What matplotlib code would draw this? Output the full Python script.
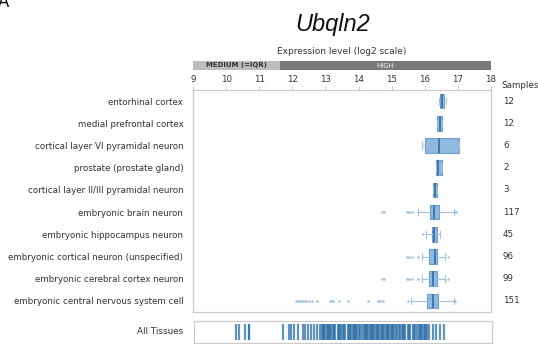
import matplotlib
matplotlib.use("Agg")
import matplotlib.pyplot as plt

W, H = 538, 344

title = "Ubqln2"
tissues = ["entorhinal cortex", "medial prefrontal cortex", "cortical layer VI pyramidal neuron",
           "prostate (prostate gland)", "cortical layer II/III pyramidal neuron", "embryonic brain neuron",
           "embryonic hippocampus neuron", "embryonic cortical neuron (unspecified)",
           "embryonic cerebral cortex neuron", "embryonic central nervous system cell"]
samples = [12, 12, 6, 2, 3, 117, 45, 96, 99, 151]
q1 = [16.46, 16.38, 16.01, 16.34, 16.26, 16.16, 16.21, 16.14, 16.14, 16.07]
med = [16.52, 16.46, 16.44, 16.41, 16.31, 16.29, 16.29, 16.31, 16.26, 16.26]
q3 = [16.58, 16.51, 17.03, 16.51, 16.36, 16.42, 16.36, 16.36, 16.36, 16.40]
whislo = [16.44, 16.36, 15.93, 16.34, 16.26, 15.81, 16.04, 15.93, 15.93, 15.59]
whishi = [16.64, 16.53, 17.03, 16.51, 16.36, 16.87, 16.46, 16.61, 16.61, 16.89]
fliers = [[], [], [], [], [],
          [14.71, 14.76, 15.45, 15.52, 15.60, 16.90, 16.93],
          [15.96],
          [15.45, 15.52, 15.60, 15.81, 16.71],
          [14.70, 14.76, 15.45, 15.52, 15.60, 15.81, 16.71],
          [12.11, 12.18, 12.24, 12.30, 12.36, 12.42, 12.50, 12.60, 12.73, 13.14, 13.20, 13.24,
           13.41, 13.69, 14.30, 14.60, 14.66, 14.75, 15.50, 16.92]]
all_tissues = [10.27, 10.37, 10.55, 10.65, 10.67, 11.68, 11.86, 11.93, 12.03, 12.13, 12.28, 12.34,
               12.43, 12.53, 12.63, 12.71,
               12.82, 12.86, 12.90, 12.93, 12.97, 13.01, 13.04, 13.08, 13.12, 13.15, 13.19, 13.23,
               13.27, 13.34, 13.38, 13.41, 13.45, 13.49, 13.53, 13.56, 13.64, 13.67, 13.71, 13.75,
               13.79, 13.82, 13.86, 13.90, 13.93, 13.97, 14.01, 14.08, 14.12, 14.16, 14.19, 14.23,
               14.27, 14.31, 14.34, 14.38, 14.42, 14.45, 14.49, 14.53, 14.57, 14.60, 14.64, 14.68,
               14.71, 14.75, 14.79, 14.83, 14.86, 14.90, 14.94, 14.97, 15.01, 15.05, 15.09, 15.12,
               15.20, 15.23, 15.27, 15.31, 15.35, 15.38, 15.46, 15.49, 15.53, 15.61, 15.64, 15.68,
               15.72, 15.79, 15.83, 15.87, 15.90, 15.94, 15.98, 16.01, 16.05, 16.09,
               16.21, 16.31, 16.44, 16.55]
xticks = [9, 10, 11, 12, 13, 14, 15, 16, 17, 18]
medium_end = 11.63

fig = plt.figure(figsize=(W / 100, H / 100), dpi=100)


def rect(x0, y0, x1, y1):
    return [x0 / W, 1 - y1 / H, (x1 - x0) / W, (y1 - y0) / H]


TXT = "#333333"
FR = "#cccccc"
FS = 6.3

# title
fig.text(333 / W, 1 - 24 / H, title, ha="center", va="center", fontsize=17, style="italic",
         family="Liberation Sans", color="#111111")
fig.text(-2 / W, 1 - 2 / H, "A", ha="left", va="center", fontsize=12, color="#111111")

# header bar
hx = fig.add_axes(rect(193, 61, 491, 70))
hx.barh(0, medium_end - xticks[0], left=xticks[0], height=1, color="#bdbdbd")
hx.barh(0, xticks[-1] - medium_end, left=medium_end, height=1, color="#7a7a7a")
hx.set_xlim(xticks[0], xticks[-1])
hx.set_ylim(-0.5, 0.5)
hx.axis("off")
hx.text((xticks[0] + medium_end) / 2, 0, "MEDIUM (=IQR)", ha="center", va="center",
        fontsize=5, fontweight="bold", color="#333333")
hx.text((medium_end + xticks[-1]) / 2, 0, "HIGH", ha="center", va="center",
        fontsize=5, color="#eeeeee")
fig.text(342 / W, 1 - 52 / H, "Expression level (log2 scale)", ha="center", va="center",
         fontsize=6.5, color=TXT)

# main axes
ax = fig.add_axes(rect(193, 90, 491, 312))
n = len(tissues)
stats = []
for i in range(n):
    stats.append(dict(med=med[i], q1=q1[i], q3=q3[i], whislo=whislo[i], whishi=whishi[i],
                      fliers=fliers[i]))
ax.bxp(stats, positions=range(n), widths=0.66, vert=False, patch_artist=True,
       boxprops=dict(facecolor="#8fb9de", edgecolor="#6f9fcc", linewidth=0.8),
       medianprops=dict(color="#3b74a8", linewidth=1.3),
       whiskerprops=dict(color="#9fc2e0", linewidth=0.8),
       capprops=dict(color="#9fc2e0", linewidth=0.8),
       capwidths=0.3,
       flierprops=dict(marker="o", markersize=1.8, markerfacecolor="#8fb9de",
                       markeredgecolor="none", alpha=0.9))
ax.set_xlim(xticks[0], xticks[-1])
ax.set_ylim(n - 0.5, -0.5)
ax.xaxis.tick_top()
ax.set_xticks(xticks)
ax.set_xticklabels([str(t) for t in xticks])
ax.tick_params(axis="x", direction="out", length=3, color=FR, labelsize=6.2, labelcolor=TXT, pad=1)
for s in ax.spines.values():
    s.set_color(FR)
    s.set_linewidth(0.9)
ax.set_yticks(range(n))
ax.set_yticklabels(tissues)
ax.tick_params(axis="y", length=0, labelsize=FS, labelcolor=TXT, pad=7)
for i, s in enumerate(samples):
    ax.text(1.04, i, str(s), transform=ax.get_yaxis_transform(), ha="left", va="center",
            fontsize=FS, color=TXT)
fig.text(501 / W, 1 - 85 / H, "Samples", ha="left", va="center", fontsize=FS, color=TXT)

# all tissues strip
sx = fig.add_axes(rect(194, 321, 492, 343))
sx.vlines(all_tissues, 0.12, 0.88, color="#2e6fa7", linewidth=1.6, alpha=0.75)
sx.set_xlim(xticks[0], xticks[-1])
sx.set_ylim(0, 1)
sx.set_xticks([])
sx.set_yticks([])
for s in sx.spines.values():
    s.set_color(FR)
    s.set_linewidth(0.9)
fig.text(183 / W, 1 - 332 / H, "All Tissues", ha="right", va="center", fontsize=FS, color=TXT)

fig.savefig("out.png", dpi=100)
